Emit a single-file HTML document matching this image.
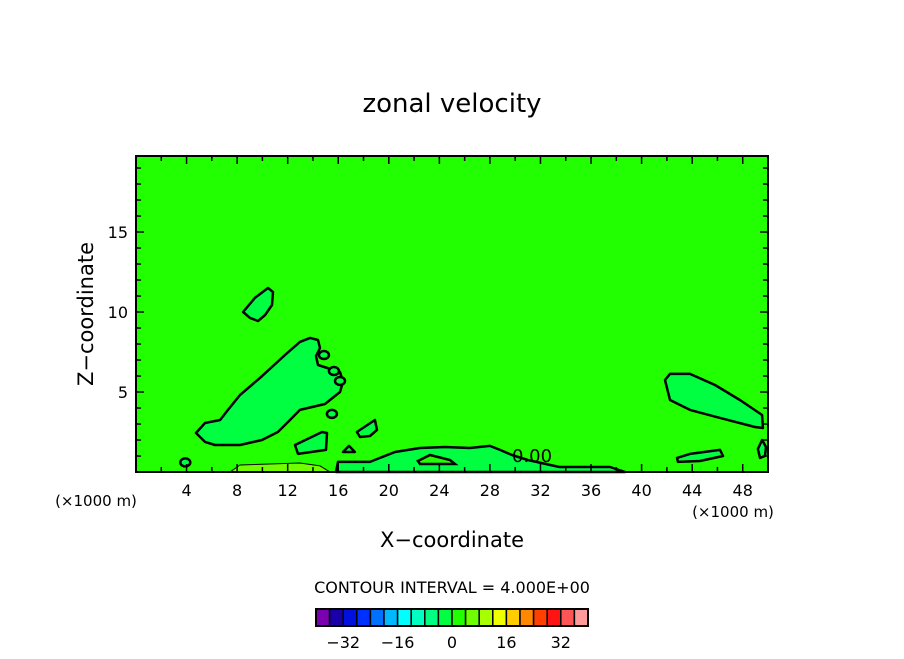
<!DOCTYPE html>
<html><head><meta charset="utf-8"><style>
html,body{margin:0;padding:0;background:#fff;}
svg text{font-family:"DejaVu Sans","Liberation Sans",sans-serif;fill:#000;}
</style></head><body>
<svg id="chart" width="904" height="654" viewBox="0 0 904 654" xmlns="http://www.w3.org/2000/svg">
<text x="452" y="112" font-size="26" text-anchor="middle">zonal velocity</text>
<rect x="136" y="156" width="632" height="316" fill="#22ff00"/>
<g id="fills"></g>
<g id="lines"></g>
<text x="512" y="462" font-size="18">0.00</text>
<rect x="136" y="156" width="632" height="316" fill="none" stroke="#000" stroke-width="2"/>
<g id="ticks"></g>
<text x="96" y="506" font-size="15" text-anchor="middle">(×1000 m)</text>
<text x="733" y="517" font-size="15" text-anchor="middle">(×1000 m)</text>
<text x="452" y="547" font-size="21" text-anchor="middle">X−coordinate</text>
<text transform="translate(93,314) rotate(-90)" font-size="21" text-anchor="middle">Z−coordinate</text>
<text x="452" y="593" font-size="16" text-anchor="middle">CONTOUR INTERVAL = 4.000E+00</text>
<g id="colorbar"></g>
</svg>
<script>
const xDomain=[0,50], yDomain=[0,19.75];
const xTicks=[4,8,12,16,20,24,28,32,36,40,44,48];
const yTicks=[5,10,15];
const cbColors=["#7a00b0","#1a00a8","#0010e0","#0030ff","#0070ff","#00b8ff","#00ffff","#00ffc0","#00ff80","#00ff40","#22ff00","#70ff00","#a8ff00","#eeff00","#ffcc00","#ff8800","#ff4000","#ff1414","#ff5555","#ff9a9a"];
const cbLabels=[-32,-16,0,16,32];
const cbLevels=[-40,-36,-32,-28,-24,-20,-16,-12,-8,-4,0,4,8,12,16,20,24,28,32,36];
const blobBig=[[4.75,2.44],[5.46,3.06],[6.65,3.25],[7.28,3.88],[8.23,4.81],[9.81,5.88],[11.79,7.31],[12.97,8.13],[13.77,8.38],[14.4,8.25],[14.56,7.75],[14.24,7.25],[14.4,6.69],[16.14,6.25],[16.38,5.63],[16.14,5.0],[14.95,4.25],[12.97,3.88],[12.18,3.25],[11.23,2.5],[9.97,2.0],[8.23,1.69],[6.25,1.69],[5.46,1.88]];
const blobTop=[[8.47,10],[9.41,10.88],[10.44,11.5],[10.84,11.25],[10.76,10.44],[10.21,9.81],[9.65,9.44],[9.02,9.63]];
const blobA=[[12.58,1.69],[14.72,2.5],[15.11,2.44],[15.03,1.38],[12.82,1.13]];
const blobB=[[17.48,2.5],[18.9,3.25],[19.07,2.63],[18.51,2.25],[17.72,2.19]];
const blobC=[[16.38,1.25],[16.85,1.63],[17.32,1.25]];
const blobRight=[[41.85,5.75],[42.25,6.13],[43.83,6.13],[45.81,5.44],[47.78,4.5],[49.53,3.56],[49.6,2.75],[48.97,2.81],[46.2,3.38],[43.83,3.88],[42.25,4.5]];
const blobRightSmall=[[42.8,0.88],[43.83,1.13],[46.2,1.38],[46.44,1.0],[44.62,0.69],[42.88,0.63]];
const blobEdge=[[49.2,1.44],[49.53,2.0],[49.84,1.56],[49.76,1.0],[49.37,0.88]];
const blobBand=[[15.82,0],[15.98,0.63],[18.51,0.63],[19.3,0.88],[20.49,1.25],[22.47,1.5],[24.45,1.56],[26.42,1.5],[28.0,1.63],[28.8,1.38],[29.75,1.06],[31.0,0.75],[33.5,0.31],[37.5,0.31],[38.7,0]];
const blobBandInner=[[22.3,0.69],[23.26,1.06],[24.84,0.75],[25.24,0.5],[22.47,0.5]];
const blobPositive=[[7.44,0],[8.23,0.44],[12.97,0.56],[14.56,0.38],[15.35,0]];
const dots=[[14.87,7.31],[15.66,6.31],[16.14,5.69],[15.5,3.63],[3.9,0.6]];
const X0=136,X1=768,Y0=472,Y1=156;
function sx(v){return X0+(v-xDomain[0])/(xDomain[1]-xDomain[0])*(X1-X0);}
function sy(v){return Y0-(v-yDomain[0])/(yDomain[1]-yDomain[0])*(Y0-Y1);}
const NS="http://www.w3.org/2000/svg";
function mk(t,a,p){const e=document.createElementNS(NS,t);for(const k in a)e.setAttribute(k,a[k]);p.appendChild(e);return e;}
const fills=document.getElementById('fills'),lines=document.getElementById('lines');
function pts(b){return b.map(p=>sx(p[0]).toFixed(1)+','+sy(p[1]).toFixed(1)).join(' ');}
const neg=[["big",blobBig],["top",blobTop],["a",blobA],["b",blobB],["c",blobC],["right",blobRight],["right-small",blobRightSmall],["edge",blobEdge],["band",blobBand]];
neg.forEach(([n,b])=>{
 const e=mk('polygon',{points:pts(b),fill:'#00ff40',stroke:'#000','stroke-width':2.5,'stroke-linejoin':'round'},fills);
 
 
});
const inner=mk('polygon',{points:pts(blobBandInner),fill:'#22ff00',stroke:'#000','stroke-width':2.5},fills);


const pos=mk('polygon',{points:pts(blobPositive),fill:'#70ff00',stroke:'#000','stroke-width':1},fills);


dots.forEach((d,i)=>{
 const e=mk('ellipse',{cx:sx(d[0]),cy:sy(d[1]),rx:5,ry:4,fill:'#00ff40',stroke:'#000','stroke-width':2.5},lines);
 
 
});
const tg=document.getElementById('ticks');
for(let v=2;v<50;v+=2){const L=(v%4===0)?8:5;
 mk('line',{x1:sx(v),x2:sx(v),y1:Y0,y2:Y0-L,stroke:'#000','stroke-width':1.5},tg);
 mk('line',{x1:sx(v),x2:sx(v),y1:Y1,y2:Y1+L,stroke:'#000','stroke-width':1.5},tg);}
for(let v=1;v<20;v++){const L=(v%5===0)?8:5;
 mk('line',{x1:X0,x2:X0+L,y1:sy(v),y2:sy(v),stroke:'#000','stroke-width':1.5},tg);
 mk('line',{x1:X1,x2:X1-L,y1:sy(v),y2:sy(v),stroke:'#000','stroke-width':1.5},tg);}
xTicks.forEach(v=>{const t=mk('text',{x:sx(v),y:496,'font-size':16,'text-anchor':'middle'},tg);t.textContent=v;
 
 });
yTicks.forEach(v=>{const t=mk('text',{x:128,y:sy(v)+6,'font-size':16,'text-anchor':'end'},tg);t.textContent=v;
 
 });
const cb=document.getElementById('colorbar');
const cbX=316,cbW=272,cbY=609,cbH=17,bw=cbW/cbColors.length;
cbColors.forEach((c,i)=>{const r=mk('rect',{x:cbX+i*bw,y:cbY,width:bw,height:cbH,fill:c,stroke:'#000','stroke-width':1.5},cb);
 
 });
mk('rect',{x:cbX,y:cbY,width:cbW,height:cbH,fill:'none',stroke:'#000','stroke-width':2},cb);
cbLabels.forEach(v=>{const i=cbLevels.indexOf(v);const t=mk('text',{x:cbX+i*bw,y:648,'font-size':16,'text-anchor':'middle'},cb);t.textContent=(v<0?'−'+(-v):v);
 
 });
</script>
</body></html>
